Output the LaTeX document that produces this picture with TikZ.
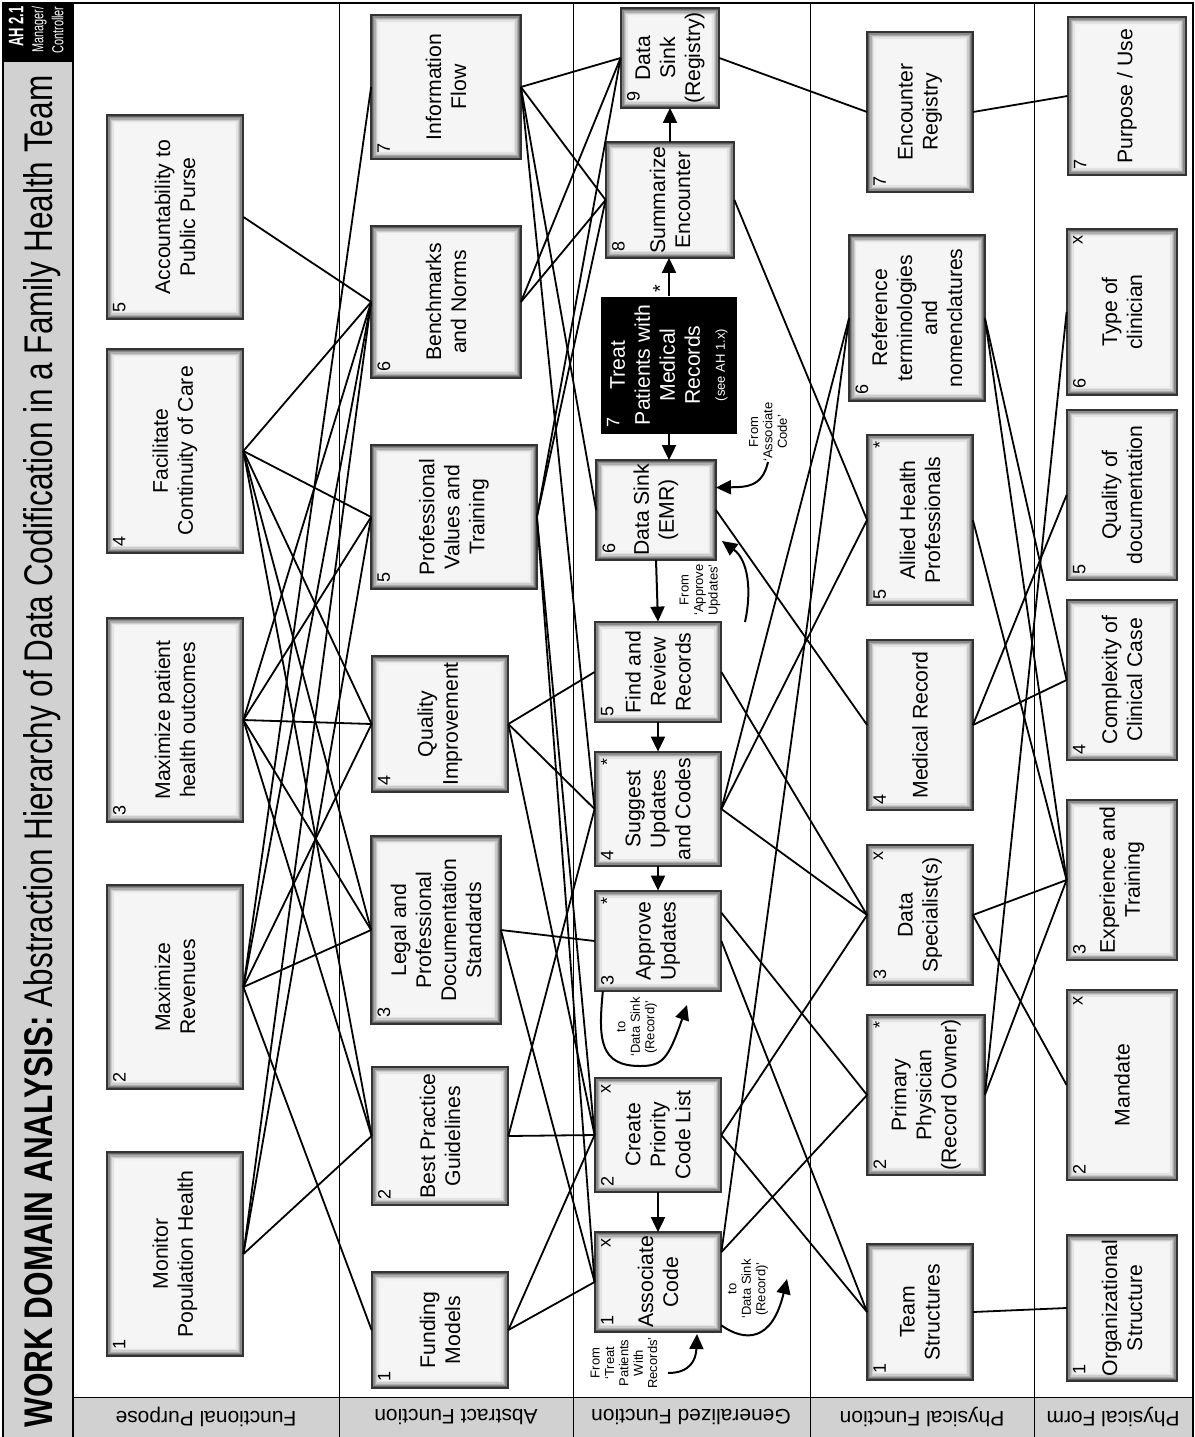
\documentclass[tikz,border=0pt]{standalone}
\usepackage{fontspec}
\setmainfont{Liberation Sans}
\usetikzlibrary{arrows.meta,calc}

\newcommand{\wdashade}[1]{%
  \foreach \ii/\gg in {0.5/62,1.2/46,1.9/32,2.6/20,3.3/11,4.0/5}{%
    \draw[black!\gg, line width=0.8pt]
      ([shift={(\ii pt,-\ii pt)}]#1.north east) rectangle ([shift={(-\ii pt,\ii pt)}]#1.south west);}%
  \draw[black!80, line width=1pt] (#1.north east) rectangle (#1.south west);}

\tikzset{
  wdabox/.style={fill=black!4, rotate=90, inner sep=0pt},
  bsize/.style 2 args={minimum height=0.5pt*#1, minimum width=0.5pt*#2},
  boxtext/.style={rotate=90, align=center, inner sep=0pt, font=\fontsize{10.6}{12.5}\selectfont},
  boxno/.style={rotate=90, anchor=north west, inner sep=3pt, font=\fontsize{9}{9}\selectfont},
  boxflag/.style={rotate=90, anchor=north east, inner sep=3pt, font=\fontsize{9}{9}\selectfont},
  link/.style={line width=0.9pt},
  flow/.style={line width=1pt, -{Triangle[width=7pt,length=7.5pt]}},
  note/.style={rotate=90, align=center, inner sep=0pt, font=\fontsize{6.5}{7.2}\selectfont},
  lvl/.style={rotate=180, inner sep=0pt, font=\fontsize{10.5}{12}\selectfont},
}

\begin{document}
\begin{tikzpicture}[x=0.5pt,y=-0.5pt]
  \useasboundingbox (0,0) rectangle (1195,1437);

  % frame, title strip, level strip
  \fill[black!18] (3,3) rectangle (73,1437);
  \fill[black!18] (73,1397) rectangle (1193,1437);
  \fill[black] (3,3) rectangle (73,62);
  \draw[line width=0.8pt] (3,1437) -- (3,3) -- (1193,3) -- (1193,1437);
  \draw[line width=0.6pt] (73,3) -- (73,1437);
  \draw[line width=0.5pt] (73,1397) -- (1193,1397);
  \foreach \xx in {339,573,810,1034}
    \draw[line width=0.5pt] (\xx,3) -- (\xx,1437);

  \node[rotate=90, anchor=west, inner sep=0pt, font=\fontsize{20}{20}\selectfont] (title) at (42,1428)
    {\resizebox{676pt}{\height}{\textbf{WORK DOMAIN ANALYSIS:} Abstraction Hierarchy of Data Codification in a Family Health Team}};
  \node[rotate=90, anchor=east, text=white, align=right, inner sep=0pt, font=\fontsize{8}{10}\selectfont] (ah) at (36,6)
    {\scalebox{0.62}[1]{\fontsize{10.5}{10}\selectfont\textbf{AH 2.1}}\\\scalebox{0.68}[1]{Manager/}\\\scalebox{0.68}[1]{Controller}};

  \node[lvl] (lv1) at (206,1417) {Functional Purpose};
  \node[lvl] (lv2) at (456,1417) {Abstract Function};
  \node[lvl] (lv3) at (691,1417) {Generalized Function};
  \node[lvl] (lv4) at (922,1417) {Physical Function};
  \node[lvl] (lv5) at (1113,1417) {Physical Form};

  % functional purpose
  \node[wdabox, bsize={136}{203}] (fp1) at (175,1254) {};
  \node[wdabox, bsize={136}{203}] (fp2) at (175,987) {};
  \node[wdabox, bsize={136}{203}] (fp3) at (175,720) {};
  \node[wdabox, bsize={136}{203}] (fp4) at (175,451) {};
  \node[wdabox, bsize={136}{203}] (fp5) at (175,217) {};

  % abstract function
  \node[wdabox, bsize={136}{115}] (af1) at (440,1330) {};
  \node[wdabox, bsize={136}{138}] (af2) at (440,1136) {};
  \node[wdabox, bsize={129}{187}] (af3) at (436,930) {};
  \node[wdabox, bsize={136}{135}] (af4) at (440,724) {};
  \node[wdabox, bsize={165}{143}] (af5) at (454,517) {};
  \node[wdabox, bsize={149}{151}] (af6) at (446,302) {};
  \node[wdabox, bsize={149}{144}] (af7) at (446,87) {};

  % generalized function
  \node[wdabox, bsize={126}{99}] (gf1) at (658,1282) {};
  \node[wdabox, bsize={126}{114}] (gf2) at (658,1135) {};
  \node[wdabox, bsize={126}{100}] (gf3) at (658,941) {};
  \node[wdabox, bsize={126}{114}] (gf4) at (658,809) {};
  \node[wdabox, bsize={126}{100}] (gf5) at (658,672) {};
  \node[wdabox, bsize={119}{99}] (gf6) at (656,510) {};
  \node[wdabox, bsize={136}{137}, fill=black] (gf7) at (669,365) {};
  \node[wdabox, bsize={128}{115}] (gf8) at (670,200) {};
  \node[wdabox, bsize={98}{99}] (gf9) at (670,58) {};

  % physical function
  \node[wdabox, bsize={105}{135}] (phf1) at (920,1312) {};
  \node[wdabox, bsize={117}{160}] (phf2) at (926,1095) {};
  \node[wdabox, bsize={105}{140}] (phf3) at (920,915) {};
  \node[wdabox, bsize={105}{170}] (phf4) at (920,725) {};
  \node[wdabox, bsize={105}{170}] (phf5) at (920,520) {};
  \node[wdabox, bsize={135}{165}] (phf6) at (917,318) {};
  \node[wdabox, bsize={105}{160}] (phf7) at (920,112) {};

  % physical form
  \node[wdabox, bsize={110}{145}] (pf1) at (1122,1308) {};
  \node[wdabox, bsize={110}{190}] (pf2) at (1122,1085) {};
  \node[wdabox, bsize={110}{160}] (pf3) at (1122,880) {};
  \node[wdabox, bsize={110}{160}] (pf4) at (1122,680) {};
  \node[wdabox, bsize={110}{170}] (pf5) at (1122,495) {};
  \node[wdabox, bsize={110}{165}] (pf6) at (1122,312) {};
  \node[wdabox, bsize={118}{158}] (pf7) at (1127,96) {};

  \foreach \nn in {fp1,fp2,fp3,fp4,fp5,af1,af2,af3,af4,af5,af6,af7,
                   gf1,gf2,gf3,gf4,gf5,gf6,gf8,gf9,
                   phf1,phf2,phf3,phf4,phf5,phf6,phf7,pf1,pf2,pf3,pf4,pf5,pf6,pf7}
    \wdashade{\nn};

  % box texts
  \foreach \nn/\lbl in {fp1/{Monitor\\Population Health}, fp2/{Maximize\\Revenues},
      fp3/{Maximize patient\\health outcomes}, fp4/{Facilitate\\Continuity of Care},
      fp5/{Accountability to\\Public Purse},
      af1/{Funding\\Models}, af2/{Best Practice\\Guidelines},
      af3/{Legal and\\Professional\\Documentation\\Standards}, af4/{Quality\\Improvement},
      af5/{Professional\\Values and\\Training}, af6/{Benchmarks\\and Norms}, af7/{Information\\Flow},
      gf1/{Associate\\Code}, gf2/{Create\\Priority\\Code List}, gf3/{Approve\\Updates},
      gf4/{Suggest\\Updates\\and Codes}, gf5/{Find and\\Review\\Records}, gf6/{Data Sink\\(EMR)},
      gf8/{Summarize\\Encounter}, gf9/{Data\\Sink\\(Registry)},
      phf1/{Team\\Structures}, phf2/{Primary\\Physician\\(Record Owner)}, phf3/{Data\\Specialist(s)},
      phf4/{Medical Record}, phf5/{Allied Health\\Professionals},
      phf6/{Reference\\terminologies\\and\\nomenclatures}, phf7/{Encounter\\Registry},
      pf1/{Organizational\\Structure}, pf2/{Mandate}, pf3/{Experience and\\Training},
      pf4/{Complexity of\\Clinical Case}, pf5/{Quality of\\documentation},
      pf6/{Type of\\clinician}, pf7/{Purpose / Use}}
    \node[boxtext] (\nn-tx) at (\nn) {\lbl};
  \node[boxtext, text=white] (gf7-tx) at (gf7)
    {Treat\\Patients with\\Medical\\Records\\{\fontsize{6.5}{8}\selectfont(see AH 1.x)}};

  \foreach \nn/\kk in {fp1/1,fp2/2,fp3/3,fp4/4,fp5/5,af1/1,af2/2,af3/3,af4/4,af5/5,af6/6,af7/7,
                       gf1/1,gf2/2,gf3/3,gf4/4,gf5/5,gf6/6,gf8/8,gf9/9,
                       phf1/1,phf2/2,phf3/3,phf4/4,phf5/5,phf6/6,phf7/7,
                       pf1/1,pf2/2,pf3/3,pf4/4,pf5/5,pf6/6,pf7/7}
    \node[boxno] (\nn-no) at (\nn.north west) {\kk};
  \node[boxno, text=white] (gf7-no) at (gf7.north west) {7};

  \foreach \nn/\ff in {gf1/x,gf2/x,gf3/*,gf4/*,phf2/*,phf3/x,phf5/*,pf2/x,pf6/x}
    \node[boxflag] (\nn-fl) at (\nn.north east) {\ff};
  \node[rotate=90, inner sep=0pt, font=\fontsize{10}{10}\selectfont] (gf7-fl) at (660,289) {*};

  % sequence within generalized function
  \draw[flow] (gf2.west) -- (gf1.east);
  \draw[flow] (gf4.west) -- (gf3.east);
  \draw[flow] (gf5.west) -- (gf4.east);
  \draw[flow] (gf6.west) -- (gf5.east);
  \draw[flow] (gf7.west) -- (gf7.west |- gf6.east);
  \draw[flow] (gf7.east) -- (gf7.east |- gf8.west);
  \draw[flow] (gf8.east) -- (gf8.east |- gf9.west);

  % notes with arrows
  \node[note] (na) at (768,432) {From\\`Associate\\Code'};
  \coordinate (na-in) at ($(gf6.south)!0.45!(gf6.south east)$);
  \draw[flow] (na.west) .. controls (762,488) and (745,487) .. (na-in);
  \node[note] (nb) at (700,590) {From\\`Approve\\Updates'};
  \coordinate (nb-out) at (745,622);
  \coordinate (nb-in) at (722,541);
  \draw[flow] (nb-out) .. controls (752,590) and (748,560) .. (nb-in);
  \node[note] (nc) at (637,1027) {to\\`Data Sink\\(Record)'};
  \coordinate (nc-out) at ($(gf3.west)!0.87!(gf3.north west)$);
  \coordinate (nc-in) at (687,1005);
  \draw[flow] (nc-out) .. controls (598,1040) and (600,1066) .. (640,1066)
    .. controls (662,1066) and (668,1060) .. (nc-in);
  \node[note] (nd) at (748,1289) {to\\`Data Sink\\(Record)'};
  \coordinate (nd-out) at ($(gf1.south)!0.87!(gf1.south west)$);
  \coordinate (nd-in) at (787,1279);
  \draw[flow] (nd-out) .. controls (745,1342) and (772,1342) .. (nd-in);
  \node[note] (ne) at (624,1363) {From\\`Treat\\Patients\\With\\Records'};
  \coordinate (ne-out) at (668,1373);
  \coordinate (ne-in) at (697,1334);
  \draw[flow] (ne-out) .. controls (690,1373) and (696,1360) .. (ne-in);

  % off-centre attachment points
  \coordinate (gf1-r) at ($(gf1.south)!0.6!(gf1.south east)$);
  \coordinate (gf3-r) at ($(gf3.south)!0.56!(gf3.south east)$);

  % functional purpose -- abstract function
  \foreach \aa/\bb in {fp5/af6,fp4/af6,fp4/af5,fp4/af4,fp4/af3,fp4/af2,
                       fp3/af6,fp3/af5,fp3/af4,fp3/af3,fp3/af2,
                       fp2/af7,fp2/af6,fp2/af4,fp2/af3,fp2/af1,fp1/af6,fp1/af5,fp1/af2}
    \draw[link] (\aa.south) -- (\bb.north);

  % abstract function -- generalized function
  \foreach \aa/\bb in {af7/gf9,af7/gf8,af7/gf6,af7/gf4,af6/gf9,af6/gf8,
                       af5/gf9,af5/gf8,af5/gf2,af5/gf1,af4/gf5,af4/gf4,af4/gf2,
                       af3/gf3,af3/gf1,af2/gf2,af2/gf4,af1/gf1,af1/gf2}
    \draw[link] (\aa.south) -- (\bb.north);

  % generalized function -- physical function
  \foreach \aa/\bb in {gf9.south/phf7,gf8.south/phf5,gf6.south/phf4,gf5.south/phf3,
                       gf4.south/phf6,gf4.south/phf5,gf4.south/phf3,gf3-r/phf2,gf3.south/phf1,
                       gf2.south/phf3,gf2.south/phf1,gf1-r/phf2,gf1-r/phf6}
    \draw[link] (\aa) -- (\bb.north);

  % physical function -- physical form
  \foreach \aa/\bb in {phf7/pf7,phf6/pf3,phf6/pf4,phf5/pf3,phf4/pf4,phf4/pf5,
                       phf3/pf3,phf3/pf2,phf2/pf3,phf2/pf6,phf1/pf1}
    \draw[link] (\aa.south) -- (\bb.north);
\end{tikzpicture}
\end{document}
